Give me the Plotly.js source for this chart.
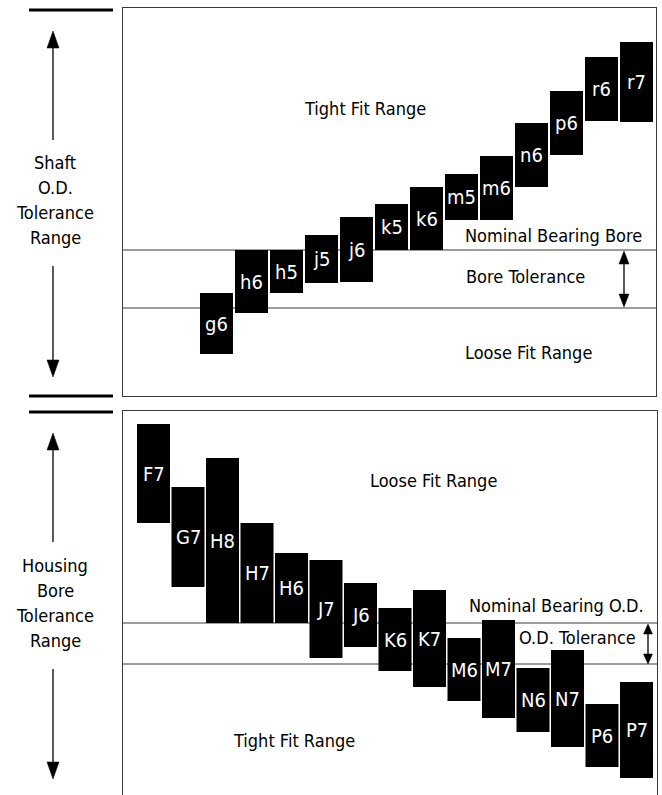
<!DOCTYPE html>
<html>
<head>
<meta charset="utf-8">
<script src="https://cdn.plot.ly/plotly-3.0.1.min.js"></script>
<style>html,body{margin:0;padding:0;background:#fff;}#chart{width:662px;height:795px;}</style>
</head>
<body>
<div id="chart"></div>
<script>
// ---- data (units: offset from the nominal bearing dimension) ----
const shaftFits   = ['g6','h6','h5','j5','j6','k5','k6','m5','m6','n6','p6','r6','r7'];
const shaftUpper  = [-43, 0, 0, 15, 33, 46, 63, 76, 94, 127, 159, 193, 208];
const shaftLower  = [-104, -63, -43, -33, -32, 0, 0, 30, 30, 63, 95, 129, 128];
const boreTolerance = -58;

const housingFits  = ['F7','G7','H8','H7','H6','J7','J6','K6','K7','M6','M7','N6','N7','P6','P7'];
const housingUpper = [199, 136, 165, 100, 70, 63, 40, 15, 33, -15, 3, -45, -27, -81, -59];
const housingLower = [100, 36, 0, 0, 0, -35, -24, -48, -64, -78, -95, -109, -124, -144, -155];
const odTolerance = -41;

const shaftSideLabel   = ['Shaft', 'O.D.', 'Tolerance', 'Range'];
const housingSideLabel = ['Housing', 'Bore', 'Tolerance', 'Range'];

// ---- helpers ----
const W = 662, H = 795;
const px = x => x / W;
const py = y => 1 - y / H;
const FONT = "'Liberation Sans Narrow', 'DejaVu Sans Condensed', 'Roboto Condensed', 'Arial Narrow', 'Liberation Sans', sans-serif";
const LINE = '#3a3a3a';

const diff = (a, b) => a.map((v, i) => v - b[i]);
const mid = (a, b) => a.map((v, i) => (v + b[i]) / 2);

const traces = [
  {
    type: 'bar', x: shaftFits, y: diff(shaftUpper, shaftLower), base: shaftLower,
    xaxis: 'x', yaxis: 'y', width: 0.943,
    marker: {color: '#000', line: {width: 0}},
    textposition: 'none', hoverinfo: 'skip', showlegend: false
  },
  {
    type: 'bar', x: housingFits, y: diff(housingUpper, housingLower), base: housingLower,
    xaxis: 'x2', yaxis: 'y2', width: 0.957,
    marker: {color: '#000', line: {width: 0}},
    textposition: 'none', hoverinfo: 'skip', showlegend: false
  }
];

const axisCommon = {showgrid: false, zeroline: false, showticklabels: false, ticks: '',
  linecolor: LINE, linewidth: 1, fixedrange: true};

const shapes = [];
function hline(yref, y) {
  shapes.push({type: 'line', layer: 'below', xref: yref === 'y' ? 'x domain' : 'x2 domain', yref: yref,
    x0: 0, x1: 1, y0: y, y1: y, line: {color: LINE, width: 1}});
}
hline('y', 0); hline('y', boreTolerance);
hline('y2', 0); hline('y2', odTolerance);

function thick(y) {
  shapes.push({type: 'line', xref: 'paper', yref: 'paper', x0: px(29), x1: px(113), y0: py(y), y1: py(y),
    line: {color: '#000', width: 3}});
}
thick(10); thick(396); thick(412);

function seg(x0, y0, x1, y1, w) {
  shapes.push({type: 'line', xref: 'paper', yref: 'paper', x0: px(x0), x1: px(x1), y0: py(y0), y1: py(y1),
    line: {color: '#000', width: w}});
}
function head(x, tipY, dir, hw, len) { // dir -1 = up, +1 = down
  const by = tipY - dir * len;
  shapes.push({type: 'path', xref: 'paper', yref: 'paper',
    path: `M${px(x)},${py(tipY)} L${px(x - hw)},${py(by)} L${px(x + hw)},${py(by)} Z`,
    fillcolor: '#000', line: {color: '#000', width: 0.5}});
  return by;
}
function arrowUp(x, tip, tail, hw, len, w) { const b = head(x, tip, -1, hw, len); seg(x, b, x, tail, w); }
function arrowDown(x, tip, tail, hw, len, w) { const b = head(x, tip, 1, hw, len); seg(x, tail, x, b, w); }
function arrowBoth(x, top, bottom, hw, len, w) {
  const b1 = head(x, top, -1, hw, len); const b2 = head(x, bottom, 1, hw, len); seg(x, b1, x, b2, w);
}
// left side arrows
arrowUp(53, 31, 140, 6, 17, 1.3);
arrowDown(53, 377, 266, 6, 17, 1.3);
arrowUp(53, 433, 542, 6, 17, 1.3);
arrowDown(53, 779, 669, 6, 17, 1.3);
// tolerance double arrows
arrowBoth(624, 251, 307, 5, 13, 1.3);
arrowBoth(648, 624, 664, 4.5, 10, 1.3);

const annotations = [];
function label(text, cx, cy, size) {
  annotations.push({text: text, xref: 'paper', yref: 'paper', x: px(cx), y: py(cy),
    xanchor: 'center', yanchor: 'middle', showarrow: false,
    font: {family: FONT, size: size || 18, color: '#000'}});
}
label('Tight Fit Range', 365, 109);
label('Nominal Bearing Bore', 553, 236);
label('Bore Tolerance', 525, 277);
label('Loose Fit Range', 528, 352);
label('Loose Fit Range', 433, 480);
label('Nominal Bearing O.D.', 556, 605);
label('O.D. Tolerance', 577, 637);
label('Tight Fit Range', 294, 740);
shaftSideLabel.forEach((t, i) => label(t, 55, 163 + i * 25));
housingSideLabel.forEach((t, i) => label(t, 55, 565 + i * 25));

// bar labels, placed at each bar's centre through the axes
function barLabels(names, upper, lower, xr, yr) {
  const c = mid(upper, lower);
  names.forEach((n, i) => annotations.push({text: n, xref: xr, yref: yr, x: n, y: c[i],
    xanchor: 'center', yanchor: 'middle', showarrow: false,
    font: {family: FONT, size: 20, color: '#fff'}}));
}
barLabels(shaftFits, shaftUpper, shaftLower, 'x', 'y');
barLabels(housingFits, housingUpper, housingLower, 'x2', 'y2');

const layout = {
  width: W, height: H, margin: {l: 0, r: 0, t: 0, b: 0},
  paper_bgcolor: '#fff', plot_bgcolor: 'rgba(0,0,0,0)',
  showlegend: false, barmode: 'overlay',
  xaxis: Object.assign({}, axisCommon, {domain: [px(123), px(656)], range: [-2.671, 12.557],
    type: 'category', anchor: 'y', showline: true, mirror: true}),
  yaxis: Object.assign({}, axisCommon, {domain: [py(395.5), py(8)], range: [-145.5, 242],
    anchor: 'x', showline: true, mirror: true}),
  xaxis2: Object.assign({}, axisCommon, {domain: [px(123), px(657)], range: [-0.884, 14.594],
    type: 'category', anchor: 'y2', side: 'top', showline: true, mirror: false}),
  yaxis2: Object.assign({}, axisCommon, {domain: [0, py(411)], range: [-172, 212],
    anchor: 'x2', showline: true, mirror: true}),
  shapes: shapes, annotations: annotations
};

Plotly.newPlot('chart', traces, layout, {displayModeBar: false, staticPlot: true});
</script>
</body>
</html>
